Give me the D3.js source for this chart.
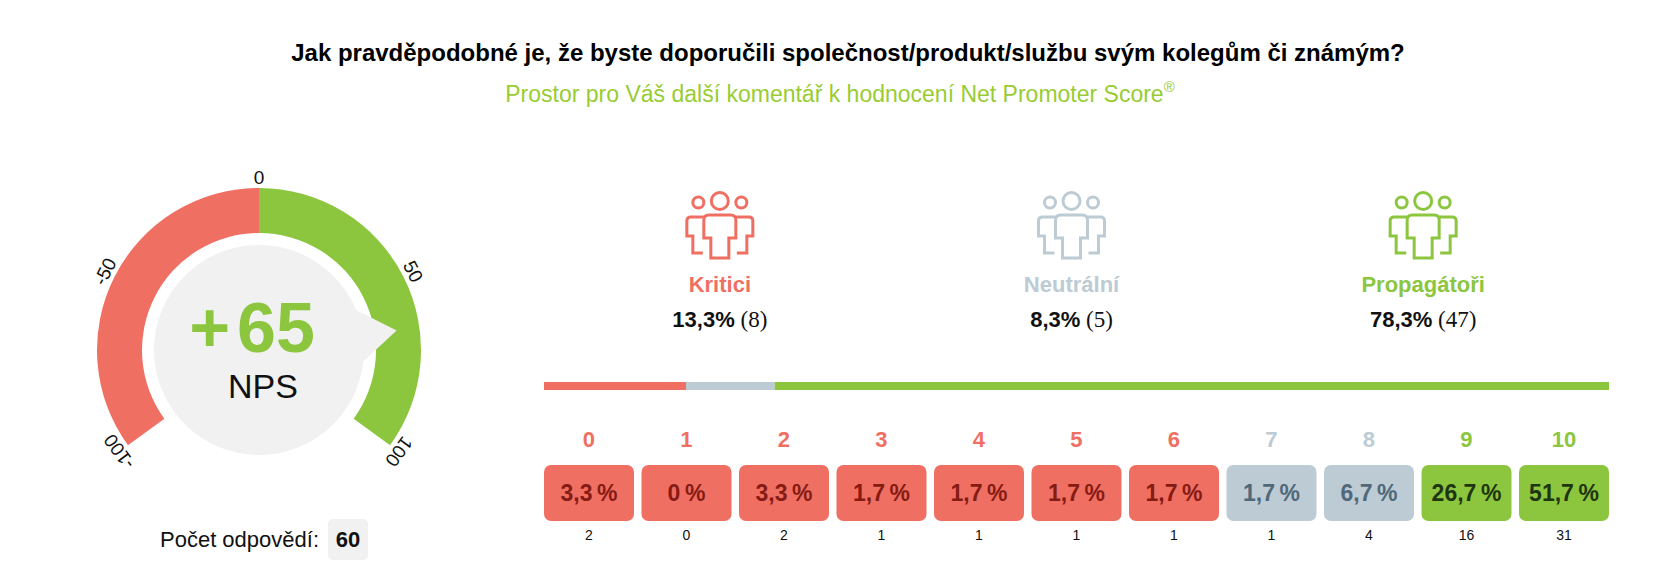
<!DOCTYPE html>
<html>
<head>
<meta charset="utf-8">
<script src="https://cdn.jsdelivr.net/npm/d3@7"></script>
<style>
  body { margin: 0; background: #fff; }
  svg { display: block; font-family: "Liberation Sans", Arial, sans-serif; }
</style>
</head>
<body>
<div id="chart"></div>
<script>
// data
const titleText = 'Jak pravděpodobné je, že byste doporučili společnost/produkt/službu svým kolegům či známým?';
const subtitleText = 'Prostor pro Váš další komentář k hodnocení Net Promoter Score';
const npsValue = 65;
const responseCount = 60;
const gaugeTicks = [-100, -50, 0, 50, 100];

const groupNames = ['Kritici', 'Neutrální', 'Propagátoři'];
const groupPercents = [13.3, 8.3, 78.3];
const groupCounts = [8, 5, 47];

const scores = [0, 1, 2, 3, 4, 5, 6, 7, 8, 9, 10];
const scorePercents = [3.3, 0, 3.3, 1.7, 1.7, 1.7, 1.7, 1.7, 6.7, 26.7, 51.7];
const scoreCounts = [2, 0, 2, 1, 1, 1, 1, 1, 4, 16, 31];

// colours
const RED = '#f06f63', GRAY = '#bccbd4', GREEN = '#8cc63e', LIGHT = '#f1f1f1';
const groupColor = [RED, GRAY, GREEN];
const cellText = ['#861b13', '#50687a', '#1e3510'];
const groupOf = s => s <= 6 ? 0 : (s <= 8 ? 1 : 2);
const fmt = v => (v === 0 ? '0' : v.toFixed(1).replace('.', ',')) + '\u2009%';

const W = 1674, H = 585;
const svg = d3.select('#chart').append('svg')
  .attr('width', W)
  .attr('height', H);

// titulky
svg.append('text')
  .attr('x', 848).attr('y', 61)
  .attr('text-anchor', 'middle')
  .attr('font-size', 24).attr('font-weight', 'bold')
  .attr('fill', '#000')
  .text(titleText);

const sub = svg.append('text')
  .attr('x', 840).attr('y', 102)
  .attr('text-anchor', 'middle')
  .attr('font-size', 23)
  .attr('fill', '#99cc33');
sub.append('tspan').text(subtitleText);
sub.append('tspan').attr('font-size', 15).attr('dy', -10).text('®');

// gauge
const cx = 259, cy = 350;
const gauge = svg.append('g').attr('transform', `translate(${cx},${cy})`);
const angle = d3.scaleLinear().domain([-100, 100]).range([-0.7 * Math.PI, 0.7 * Math.PI]);
const arc = d3.arc().innerRadius(117).outerRadius(162);

gauge.selectAll('path.seg')
  .data([{ from: -100, to: 0, color: RED }, { from: 0, to: 100, color: GREEN }])
  .join('path')
  .attr('class', 'seg')
  .attr('d', d => arc({ startAngle: angle(d.from), endAngle: angle(d.to) }))
  .attr('fill', d => d.color);

gauge.selectAll('text.tick')
  .data(gaugeTicks)
  .join('text')
  .attr('class', 'tick')
  .attr('transform', d => {
    const a = angle(d);
    return `translate(${Math.sin(a) * 173},${-Math.cos(a) * 173}) rotate(${a * 180 / Math.PI})`;
  })
  .attr('text-anchor', 'middle')
  .attr('dy', '0.35em')
  .attr('font-size', 19)
  .attr('fill', '#111')
  .text(d => d);

// stredovy kruh + ukazatel
const pa = angle(npsValue), spread = 0.31;
const pt = (a, r) => [Math.sin(a) * r, -Math.cos(a) * r];
gauge.append('polygon')
  .attr('points', [pt(pa - spread, 100), pt(pa, 139), pt(pa + spread, 100)].map(p => p.join(',')).join(' '))
  .attr('fill', LIGHT);
gauge.append('circle').attr('r', 105).attr('fill', LIGHT);

const big = gauge.append('text')
  .attr('x', -7).attr('y', 2)
  .attr('text-anchor', 'middle')
  .attr('font-size', 70).attr('font-weight', 'bold')
  .attr('fill', GREEN);
big.append('tspan').text(npsValue > 0 ? '+' : '');
big.append('tspan').attr('dx', 7).text(Math.abs(npsValue));

gauge.append('text')
  .attr('x', 4).attr('y', 48)
  .attr('text-anchor', 'middle')
  .attr('font-size', 34)
  .attr('fill', '#111')
  .text('NPS');

// pocet odpovedi
svg.append('text')
  .attr('x', 319).attr('y', 547)
  .attr('text-anchor', 'end')
  .attr('font-size', 22)
  .attr('fill', '#111')
  .text('Počet odpovědí:');
svg.append('rect')
  .attr('x', 328).attr('y', 519).attr('width', 40).attr('height', 41)
  .attr('rx', 5).attr('fill', LIGHT);
svg.append('text')
  .attr('x', 348).attr('y', 547)
  .attr('text-anchor', 'middle')
  .attr('font-size', 22).attr('font-weight', 'bold')
  .attr('fill', '#111')
  .text(responseCount);

// skupiny
const left = 544, right = 1609;
const gx = d3.scaleBand().domain(groupNames).range([left, 1599]);

const people = [
  'M-9,67V47H-16V29Q-16,24 -11,24H11Q16,24 16,29V47H9V67Z',
  'M-17,62H-27V45H-33V30Q-33,26 -29,26H-16',
  'M17,62H27V45H33V30Q33,26 29,26H16'
];
const heads = [[0, 10, 8.5], [-21.5, 11.5, 5.5], [21.5, 11.5, 5.5]];

const grp = svg.selectAll('g.group')
  .data(groupNames)
  .join('g')
  .attr('class', 'group')
  .attr('transform', d => `translate(${gx(d) + gx.bandwidth() / 2},0)`);

const icon = grp.append('g')
  .attr('transform', 'translate(0,191)')
  .attr('fill', 'none')
  .attr('stroke', (d, i) => groupColor[i])
  .attr('stroke-width', 3);
icon.selectAll('path').data(people).join('path').attr('d', d => d);
icon.selectAll('circle').data(heads).join('circle')
  .attr('cx', d => d[0]).attr('cy', d => d[1]).attr('r', d => d[2]);

grp.append('text')
  .attr('y', 292)
  .attr('text-anchor', 'middle')
  .attr('font-size', 22).attr('font-weight', 'bold')
  .attr('fill', (d, i) => groupColor[i])
  .text(d => d);

const pl = grp.append('text')
  .attr('y', 327)
  .attr('text-anchor', 'middle')
  .attr('font-size', 22)
  .attr('fill', '#111');
pl.append('tspan').attr('font-weight', 'bold')
  .text((d, i) => groupPercents[i].toFixed(1).replace('.', ',') + '%');
pl.append('tspan')
  .attr('font-family', '"Liberation Serif", serif')
  .attr('font-size', 23)
  .text((d, i) => ' (' + groupCounts[i] + ')');

// pruh podilu
const total = d3.sum(groupCounts);
const bx = d3.scaleLinear().domain([0, total]).range([left, right]);
const stack = groupCounts.map((c, i) => ({ c, i, x0: d3.sum(groupCounts.slice(0, i)) }));
svg.selectAll('rect.share')
  .data(stack)
  .join('rect')
  .attr('class', 'share')
  .attr('x', d => bx(d.x0))
  .attr('y', 382)
  .attr('width', d => bx(d.x0 + d.c) - bx(d.x0))
  .attr('height', 8)
  .attr('fill', d => groupColor[d.i]);

// bunky skore
const sx = d3.scaleBand().domain(scores).range([left, right]).paddingInner(0.077);
const cell = svg.selectAll('g.cell')
  .data(scores)
  .join('g')
  .attr('class', 'cell')
  .attr('transform', d => `translate(${sx(d)},0)`);

cell.append('text')
  .attr('x', sx.bandwidth() / 2).attr('y', 447)
  .attr('text-anchor', 'middle')
  .attr('font-size', 22).attr('font-weight', 'bold')
  .attr('fill', d => groupColor[groupOf(d)])
  .text(d => d);

cell.append('rect')
  .attr('y', 465)
  .attr('width', sx.bandwidth())
  .attr('height', 56)
  .attr('rx', 7)
  .attr('fill', d => groupColor[groupOf(d)]);

cell.append('text')
  .attr('x', sx.bandwidth() / 2).attr('y', 501)
  .attr('text-anchor', 'middle')
  .attr('font-size', 23).attr('font-weight', 'bold')
  .attr('fill', d => cellText[groupOf(d)])
  .text((d, i) => fmt(scorePercents[i]));

cell.append('text')
  .attr('x', sx.bandwidth() / 2).attr('y', 540)
  .attr('text-anchor', 'middle')
  .attr('font-size', 14)
  .attr('fill', '#111')
  .text((d, i) => scoreCounts[i]);
</script>
</body>
</html>
